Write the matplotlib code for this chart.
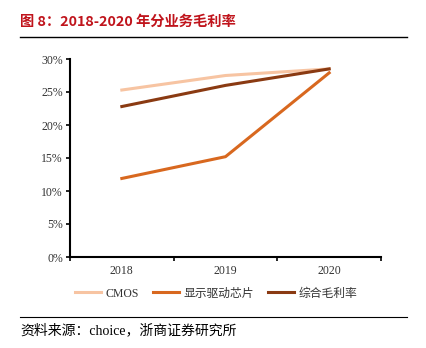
import matplotlib
matplotlib.use('Agg')
import matplotlib.pyplot as plt
from matplotlib.lines import Line2D

years = ['2018', '2019', '2020']
cmos = [25.3, 27.5, 28.5]
driver = [11.9, 15.2, 27.9]
overall = [22.8, 26.0, 28.5]
y_ticks = [0, 5, 10, 15, 20, 25, 30]

series_names = ['CMOS', '显示驱动芯片', '综合毛利率']
colors = ['#F7C4A2', '#D8681F', '#8A3A12']

cjk = ['Noto Sans CJK SC', 'DejaVu Sans']
serif = ['Liberation Serif', 'Noto Sans CJK SC']

fig = plt.figure(figsize=(4.26, 3.48), dpi=100)

# header / footer
fig.text(20/426, 1 - 22/348, '图 8：2018-2020 年分业务毛利率', family=cjk,
         fontsize=10.3, fontweight='bold', color='#C0141C', va='center', ha='left')
fig.add_artist(Line2D([20/426, 407/426], [1 - 37/348, 1 - 37/348], color='black', lw=1.0))
fig.add_artist(Line2D([20/426, 407/426], [1 - 317/348, 1 - 317/348], color='black', lw=0.8))
fig.text(20/426, 1 - 330/348, '资料来源：choice，浙商证券研究所', family=serif,
         fontsize=10, color='black', va='center', ha='left')

ax = fig.add_axes([70/426, 1 - 257/348, 311/426, 198/348])
x = list(range(len(years)))
ax.plot(x, cmos, color=colors[0], lw=2.2, label=series_names[0])
ax.plot(x, driver, color=colors[1], lw=2.2, label=series_names[1])
ax.plot(x, overall, color=colors[2], lw=2.2, label=series_names[2])

ax.set_xlim(-0.5, 2.5)
ax.set_ylim(0, 30)
ax.set_yticks(y_ticks)
ax.set_yticklabels(['%d%%' % v for v in y_ticks], family=serif, fontsize=8.5, color='#333333')
ax.set_xticks(x)
ax.set_xticklabels(years, family=serif, fontsize=8.5, color='#333333')
ax.set_xticks([-0.5, 0.5, 1.5, 2.5], minor=True)
ax.tick_params(axis='x', which='major', length=0, pad=6)
ax.tick_params(axis='x', which='minor', length=3, width=1.2, direction='out')
ax.tick_params(axis='y', length=3, width=1.2, direction='out', pad=2)

for s in ['top', 'right']:
    ax.spines[s].set_visible(False)
for s in ['left', 'bottom']:
    ax.spines[s].set_linewidth(1.5)
    ax.spines[s].set_color('black')

leg = ax.legend(loc='center', bbox_to_anchor=(0.47, -0.185), ncol=3, frameon=False,
                handlelength=2.2, columnspacing=1.2, handletextpad=0.4,
                prop={'family': serif, 'size': 8.5})
for t in leg.get_texts():
    t.set_color('#333333')

fig.savefig('out.png', dpi=100)
